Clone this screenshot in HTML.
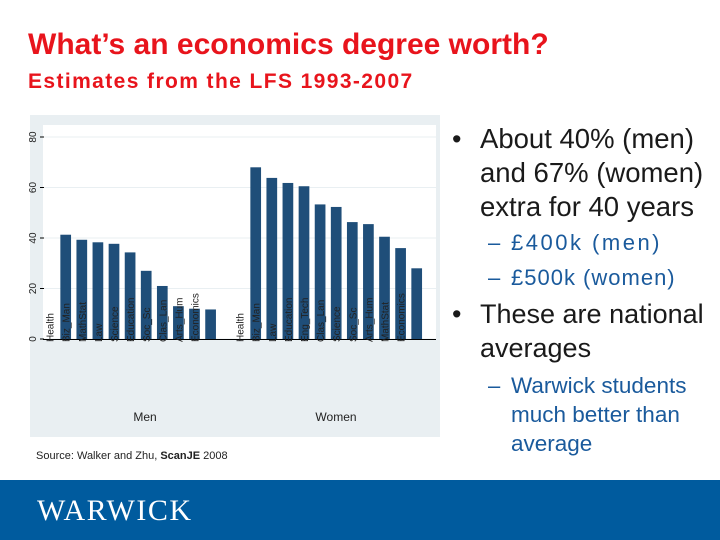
<!DOCTYPE html>
<html><head><meta charset="utf-8"><style>
body{margin:0;width:720px;height:540px;overflow:hidden;background:#fff;font-family:"Liberation Sans",sans-serif;position:relative}
.t{position:absolute;color:#e8141c;font-weight:bold;white-space:nowrap}
.b{position:absolute;color:#1a1a1a;font-size:27px;line-height:34px;white-space:nowrap}
.s{position:absolute;color:#1a5a9c;font-size:22px;line-height:29px;white-space:nowrap}
</style></head><body>
<div class="t" style="left:28px;top:28px;font-size:30px">What’s an economics degree worth?</div>
<div class="t" style="left:28px;top:70px;font-size:21px;letter-spacing:1.4px">Estimates from the LFS 1993-2007</div>
<svg id="chart" style="position:absolute;left:0;top:0" width="720" height="540"></svg>
<div class="b" style="left:452px;top:122px">•</div>
<div class="b" style="left:480px;top:122px;font-size:27.5px">About 40% (men)<br>and 67% (women)<br>extra for 40 years</div>
<div class="s" style="left:488px;top:228px">–</div>
<div class="s" style="left:511px;top:228px;letter-spacing:2.5px">£400k (men)</div>
<div class="s" style="left:488px;top:263px">–</div>
<div class="s" style="left:511px;top:263px;letter-spacing:1px">£500k (women)</div>
<div class="b" style="left:452px;top:297px">•</div>
<div class="b" style="left:480px;top:297px">These are national<br>averages</div>
<div class="s" style="left:488px;top:371px">–</div>
<div class="s" style="left:511px;top:371px;font-size:22.5px">Warwick students<br>much better than<br>average</div>
<div style="position:absolute;left:0;top:480px;width:720px;height:60px;background:#005b9e"></div>
<div style="position:absolute;left:37px;top:494px;color:#fff;font-family:'Liberation Serif',serif;font-size:30px;letter-spacing:1.5px">WARWICK</div>
<script>
const menCats=["Health","Biz_Man","MathStat","Law","Science","Education","Soc_Sc","Clas_Lan","Arts_Hum","Economics"];
const menVals=[41.3,39.3,38.3,37.7,34.3,27,21,13,12,11.7];
const womenCats=["Health","Biz_Man","Law","Education","Eng_Tech","Clas_Lan","Science","Soc_Sc","Arts_Hum","MathStat","Economics"];
const womenVals=[68,63.8,61.8,60.5,53.3,52.3,46.3,45.5,40.5,36,28];
const yTicks=[0,20,40,60,80];
const svg=document.getElementById('chart');const NS='http://www.w3.org/2000/svg';
function el(t,a,p){const e=document.createElementNS(NS,t);for(const k in a)e.setAttribute(k,a[k]);(p||svg).appendChild(e);return e;}
const y=v=>339-v*(202/80);
const bg=el('rect',{x:30,y:115,width:410,height:322,fill:'#e9eff2'});


const pa=el('rect',{x:43,y:125,width:393,height:214,fill:'#fff'});


yTicks.forEach(v=>{
 const g=el('line',{x1:43,x2:436,y1:y(v),y2:y(v),stroke:'#e9eff2','stroke-width':1});
 
 
 const tk=el('line',{x1:40,x2:44,y1:y(v),y2:y(v),stroke:'#000'});
 
 
 const t=el('text',{x:0,y:0,transform:`translate(36,${y(v)}) rotate(-90)`,'text-anchor':'middle','font-size':10,fill:'#222'});t.textContent=v;
 
 
});
const ax=el('line',{x1:43,x2:436,y1:339.5,y2:339.5,stroke:'#000'});


const bw=10.7,step=16.1;
function group(cats,vals,x0,name){
 vals.forEach((v,i)=>{const cx=x0+i*step;
  const r=el('rect',{x:cx-bw/2,y:y(v),width:bw,height:y(0)-y(v),fill:'#1f4e79'});
  
  
 });
 cats.forEach((c,i)=>{const cx=x0+(i-1)*step+4;
  const t=el('text',{transform:`translate(${cx},342) rotate(-90)`,'font-size':10,fill:'#222'});t.textContent=c;
  
  
 });
}
group(menCats,menVals,65.7,'men');
group(womenCats,womenVals,255.7,'women');
const m=el('text',{x:145,y:421,'text-anchor':'middle','font-size':12,fill:'#222'});m.textContent='Men';


const w=el('text',{x:336,y:421,'text-anchor':'middle','font-size':12,fill:'#222'});w.textContent='Women';


const s=el('text',{x:36,y:459,'font-size':11,fill:'#222'});s.innerHTML='Source: Walker and  Zhu, <tspan font-weight="bold">ScanJE</tspan> 2008';


</script>
</body></html>
